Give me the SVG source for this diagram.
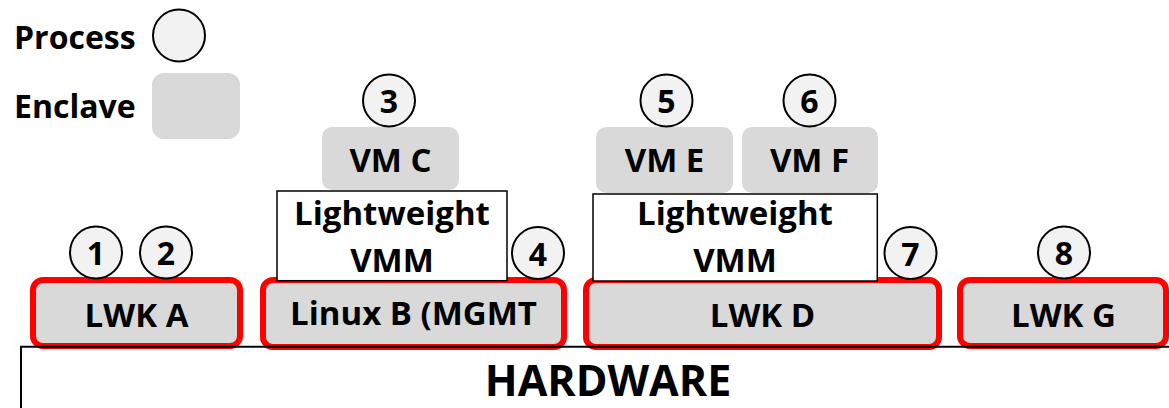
<svg xmlns="http://www.w3.org/2000/svg" width="1169" height="408" viewBox="0 0 1169 408">
<style>
text{font-family:"Open Sans","Liberation Sans",sans-serif;font-weight:bold;fill:#000;}
.lbl{font-size:33px;text-anchor:middle;}
.num{font-size:32px;text-anchor:middle;}
.leg{font-size:32px;}
.proc{fill:#f2f2f2;stroke:#000;stroke-width:2;}
.encl{fill:#d9d9d9;stroke:#ff0000;stroke-width:6;}
.vm{fill:#d9d9d9;}
.vmm{fill:#fff;stroke:#000;stroke-width:1.5;}
.hw{fill:none;stroke:#000;stroke-width:2;}
</style>
<rect width="1169" height="408" fill="#fff"/>
<g id="legend">
<text class="leg" x="14" y="49">Process</text>
<circle class="proc" cx="179" cy="35.5" r="26"/>
<text class="leg" x="14" y="118">Enclave</text>
<rect class="vm" x="152" y="73" width="88" height="66" rx="12"/>
</g>
<g id="lwk-a"><rect class="encl" x="33" y="280" width="207" height="66" rx="10"/><text class="lbl" x="136.5" y="327">LWK A</text></g>
<g id="linux-b"><rect class="encl" x="263" y="280" width="301" height="67" rx="10"/><text class="lbl" x="413.5" y="325">Linux B (MGMT</text></g>
<g id="lwk-d"><rect class="encl" x="586" y="280" width="353" height="67" rx="10"/><text class="lbl" x="762.5" y="327">LWK D</text></g>
<g id="lwk-g"><rect class="encl" x="960" y="280" width="206" height="66" rx="10"/><text class="lbl" x="1063.5" y="327">LWK G</text></g>
<g id="vmm-1"><rect class="vmm" x="277" y="191" width="230" height="89.7"/><text class="lbl" x="392" y="225">Lightweight</text><text class="lbl" x="392" y="272">VMM</text></g>
<g id="vmm-2"><rect class="vmm" x="593" y="194" width="284.3" height="87"/><text class="lbl" x="735" y="225">Lightweight</text><text class="lbl" x="735" y="272">VMM</text></g>
<g id="vm-c"><rect class="vm" x="322" y="127" width="137" height="63" rx="10"/><text class="lbl" x="390.5" y="172">VM C</text></g>
<g id="vm-e"><rect class="vm" x="596" y="127" width="137" height="66" rx="10"/><text class="lbl" x="664.5" y="172">VM E</text></g>
<g id="vm-f"><rect class="vm" x="742" y="127" width="136" height="66" rx="10"/><text class="lbl" x="809.5" y="172">VM F</text></g>
<g id="hardware"><path class="hw" d="M21,410 V346.7 H1170"/><text x="608" y="396" font-size="43" text-anchor="middle">HARDWARE</text></g>
<g id="p1"><circle class="proc" cx="96" cy="252.5" r="26"/><text class="num" x="96" y="265">1</text></g>
<g id="p2"><circle class="proc" cx="166" cy="252.5" r="26"/><text class="num" x="166" y="265">2</text></g>
<g id="p3"><circle class="proc" cx="389" cy="100.5" r="26"/><text class="num" x="389" y="113">3</text></g>
<g id="p4"><circle class="proc" cx="538" cy="253" r="26"/><text class="num" x="538" y="265.5">4</text></g>
<g id="p5"><circle class="proc" cx="666.5" cy="100.5" r="26"/><text class="num" x="666.5" y="113">5</text></g>
<g id="p6"><circle class="proc" cx="809.5" cy="100.5" r="26"/><text class="num" x="809.5" y="113">6</text></g>
<g id="p7"><circle class="proc" cx="910.5" cy="253" r="26"/><text class="num" x="910.5" y="265.5">7</text></g>
<g id="p8"><circle class="proc" cx="1064" cy="252.5" r="26"/><text class="num" x="1064" y="265">8</text></g>
<g id="connectors"></g>
</svg>
